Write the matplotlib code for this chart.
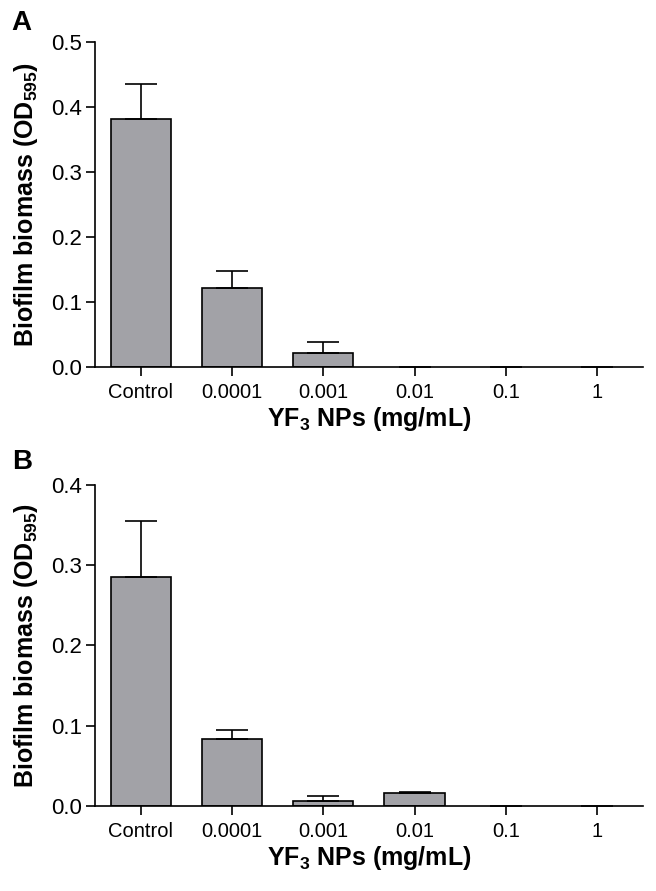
import numpy as np
import matplotlib as mpl
import matplotlib.pyplot as plt

mpl.rcParams.update({
    "font.family": "Liberation Sans",
    "mathtext.fontset": "custom",
    "mathtext.rm": "Liberation Sans",
    "mathtext.bf": "Liberation Sans:bold",
    "axes.linewidth": 1.2,
})

conc = ['Control', '0.0001', '0.001', '0.01', '0.1', '1']

# panel A
meanA = [0.382, 0.122, 0.021, 0.0, 0.0, 0.0]
errA = [0.053, 0.026, 0.018, 0.0, 0.0, 0.0]
# panel B
meanB = [0.285, 0.084, 0.006, 0.0165, 0.0, 0.0]
errB = [0.070, 0.011, 0.007, 0.0012, 0.0, 0.0]

fig = plt.figure(figsize=(6.56, 8.91), dpi=100)
axA = fig.add_axes([0.1448, 0.588, 0.835, 0.365])
axB = fig.add_axes([0.1448, 0.0954, 0.835, 0.3603])

bar_col = '#a2a2a7'

def draw(ax, mean, err, ymax, step):
    x = np.arange(len(conc))
    edges = ['black' if m > 0 else 'none' for m in mean]
    # no error bar where there is no biomass
    up = np.array([e if m > 0 else np.nan for m, e in zip(mean, err)])
    ax.bar(x, mean, width=0.66, color=bar_col, edgecolor=edges, linewidth=1.2,
           yerr=[np.zeros(len(up)), up], capsize=11.5,
           error_kw=dict(elinewidth=1.2, capthick=1.2, ecolor='black'), zorder=2)
    ax.set_xlim(-0.5, 5.5)
    ax.set_ylim(0, ymax)
    yt = np.arange(0, ymax + step / 2, step)
    ax.set_yticks(yt)
    ax.set_yticklabels(['%.1f' % v for v in yt])
    ax.set_xticks(x)
    ax.set_xticklabels(conc)
    ax.spines['top'].set_visible(False)
    ax.spines['right'].set_visible(False)
    ax.tick_params(axis='both', width=1.2, length=6.5, colors='black')
    ax.tick_params(axis='x', labelsize=14.5, pad=5)
    ax.tick_params(axis='y', labelsize=16, pad=3)
    ax.set_ylabel(r'Biofilm biomass (OD$_{\mathbf{595}}$)', fontsize=18,
                  fontweight='bold', labelpad=8)
    ax.set_xlabel(r'YF$_{\mathbf{3}}$ NPs (mg/mL)', fontsize=18,
                  fontweight='bold', labelpad=2)

draw(axA, meanA, errA, 0.5, 0.1)
draw(axB, meanB, errB, 0.4, 0.1)

fig.text(0.018, 0.974, 'A', fontsize=20, fontweight='bold', va='center')
fig.text(0.018, 0.481, 'B', fontsize=20, fontweight='bold', va='center')

plt.savefig('out.png', dpi=100)
